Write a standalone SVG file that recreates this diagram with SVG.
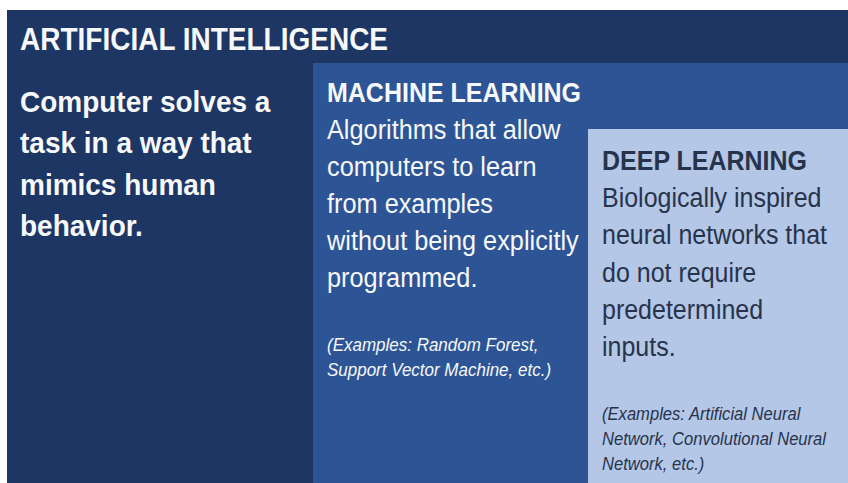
<svg xmlns="http://www.w3.org/2000/svg" width="848" height="483" viewBox="0 0 848 483">
<style>
text{font-family:"Liberation Sans",Arial,sans-serif}
.lt{fill:#f7f8fa}
.dk{fill:#27334b}
.b{font-weight:bold}
.h{font-size:28px;font-weight:bold}
.sub{font-size:25px;font-weight:bold}
.body{font-size:25.3px}
.ex{font-size:17px;font-style:italic}
</style>
<rect width="848" height="483" fill="#ffffff"/>
<g id="ai">
<rect x="7" y="10" width="841" height="473" fill="#1e3663"/>
<text class="lt h" transform="translate(20,49.5) scale(1,1.12)">ARTIFICIAL INTELLIGENCE</text>
<text class="lt b" style="font-size:28px" transform="translate(20,112) scale(1,1.05)"><tspan x="0" y="0">Computer solves a</tspan><tspan x="0" y="39.5">task in a way that</tspan><tspan x="0" y="79">mimics human</tspan><tspan x="0" y="118.5">behavior.</tspan></text>
</g>
<g id="ml">
<rect x="313" y="63" width="535" height="420" fill="#2d5595"/>
<text class="lt sub" transform="translate(327,101.7) scale(1,1.12)">MACHINE LEARNING</text>
<text class="lt body" transform="translate(327,138.5) scale(1,1.12)"><tspan x="0" y="0">Algorithms that allow</tspan><tspan x="0" y="33.04">computers to learn</tspan><tspan x="0" y="66.08">from examples</tspan><tspan x="0" y="99.12">without being explicitly</tspan><tspan x="0" y="132.16">programmed.</tspan></text>
<text class="lt ex" transform="translate(327,351) scale(1,1.12)"><tspan x="0" y="0">(Examples: Random Forest,</tspan><tspan x="0" y="22.3">Support Vector Machine, etc.)</tspan></text>
</g>
<g id="dl">
<rect x="588" y="129" width="260" height="354" fill="#b4c7e7"/>
<text class="dk sub" transform="translate(602,169.5) scale(1,1.12)">DEEP LEARNING</text>
<text class="dk" style="font-size:25px" transform="translate(602,207) scale(1,1.12)"><tspan x="0" y="0">Biologically inspired</tspan><tspan x="0" y="33.3">neural networks that</tspan><tspan x="0" y="66.6">do not require</tspan><tspan x="0" y="99.9">predetermined</tspan><tspan x="0" y="133.2">inputs.</tspan></text>
<text class="dk ex" style="font-size:16.6px" transform="translate(602,420) scale(1,1.12)"><tspan x="0" y="0">(Examples: Artificial Neural</tspan><tspan x="0" y="22.3">Network, Convolutional Neural</tspan><tspan x="0" y="44.6">Network, etc.)</tspan></text>
</g>
<g id="connectors"></g>
</svg>
